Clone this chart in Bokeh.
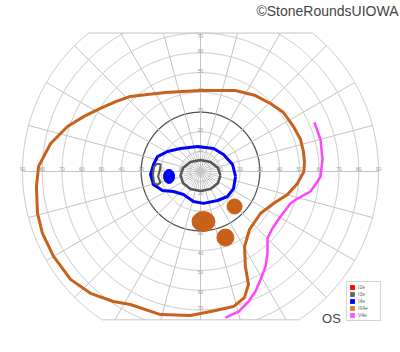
import numpy as np
from bokeh.plotting import figure
from bokeh.models import Label, Legend, LegendItem
from bokeh.core.properties import value
from bokeh.embed import file_html
from bokeh.resources import INLINE

# ---------------- data (meridian angle in degrees, eccentricity in degrees) ----------------
RINGS = [5, 10, 20, 30, 40, 50, 60, 70, 80, 90]
MERIDIANS = list(range(0, 360, 15))
TOP_LIMIT = 70
BOTTOM_LIMIT = 75
H_LABELS = [10, 20, 30, 40, 50, 60, 70, 80, 90]
V_LABELS = [10, 20, 30, 40, 50, 60, 70]

# III4e isopter (closed)
III4E_MER = [0, 5.5, 11, 17.7, 25.8, 35.4, 44.2, 54.1, 66.6, 90, 113.9, 124.5, 133, 140.5,
             147.8, 154.5, 161.3, 169.4, 178.2, 185.2, 194.4, 201.4, 210, 219.7, 227.9,
             236.2, 242.2, 254.4, 266, 276.2, 283.7, 289.2, 293, 295.3, 300.4, 310.2, 325,
             336.3, 345.2, 353]
III4E_ECC = [52.3, 52.8, 53.0, 53.1, 52.2, 51.5, 49.3, 47.4, 44.6, 41.0, 43.7, 47.3, 51.9, 55.6,
             59.8, 65.0, 71.0, 77.1, 81.9, 83.3, 85.1, 85.8, 85.8, 85.4, 83.0,
             79.1, 76.0, 75.1, 73.0, 70.7, 70.3, 67.5, 62.1, 53.1, 44.0, 38.4, 37.0,
             40.3, 45.5, 49.4]
# III4e scotomas (centre x, y and size in degrees)
III4E_SCOT_X = [1.5, 17.2, 12.6]
III4E_SCOT_Y = [-25.3, -17.7, -33.4]
III4E_SCOT_W = [11.6, 7.6, 8.6]
III4E_SCOT_H = [10.1, 7.6, 8.6]

# I4e isopter (closed)
I4E_MER = [351.9, 12.3, 36.5, 60.5, 96.8, 131, 148.8, 160.8, 171.5, 183.4, 195.5, 206.6,
           216.5, 233.5, 256.9, 275.4, 300.4, 317.2, 332.7]
I4E_ECC = [17.9, 16.6, 14.5, 13.4, 12.7, 15.4, 19.5, 23.0, 24.0, 25.3, 24.7, 21.5,
           17.0, 14.5, 15.6, 16.2, 17.0, 18.6, 18.8]
I4E_SCOT_X = [-15.9]
I4E_SCOT_Y = [-2.5]
I4E_SCOT_W = [5.6]
I4E_SCOT_H = [7.1]

# I3e isopter (closed) and small island
I3E_MER = [348.7, 12.2, 43.2, 90, 136.8, 167.8, 191.3, 214.2, 240.1, 270, 299.9, 325.8]
I3E_ECC = [10.3, 8.95, 6.95, 5.8, 6.95, 8.95, 10.3, 10.6, 10.2, 9.9, 10.2, 10.6]
I3E_ISL_MER = [169.5, 173.9, 183.6, 193.9, 197.4, 195.4, 186.7, 177.2, 170.1]
I3E_ISL_ECC = [22.1, 23.6, 24.1, 24.2, 22.8, 21.0, 21.6, 20.5, 20.5]

# V4e isopter (open)
V4E_MER = [23.3, 14.9, 5.6, 357.6, 355.1, 349.7, 344.4, 340.4, 330.6, 321.6, 315, 309.3,
           304.4, 299.1, 294.6, 290.3, 285.2, 279.7]
V4E_ECC = [62.7, 62.8, 62.0, 60.7, 59.4, 56.5, 50.9, 48.3, 46.4, 46.4, 47.9, 53.5,
           58.2, 62.5, 66.7, 70.1, 73.4, 74.9]

LEGEND_LABELS = ["I2e", "I3e", "I4e", "III4e", "V4e"]
LEGEND_COLORS = ["#ff0000", "#666666", "#0000ff", "#d4832e", "#ff55ff"]

ORANGE = "#c8611c"
BLUE = "#0000ff"
GRAY = "#555555"
MAGENTA = "#ff44ff"

# ---------------- figure ----------------
S = 178 / 90.0          # px per degree
CY = 171                # px of centre from top
XMAX = 200 / S
YMAX = CY / S
p = figure(width=400, height=352, x_range=(-XMAX, XMAX),
           y_range=(-(352 - CY) / S, YMAX), min_border=0,
           toolbar_location=None, output_backend="svg")
p.axis.visible = False
p.grid.visible = False
p.outline_line_color = None
p.background_fill_color = "white"


def polar(mer, ecc, close=False):
    m = np.radians(np.asarray(mer, float))
    e = np.asarray(ecc, float)
    x, y = e * np.cos(m), e * np.sin(m)
    if close:
        x, y = np.append(x, x[0]), np.append(y, y[0])
    return x, y


GRID = "#c4c4c4"
# rings clipped to the chart area
th = np.radians(np.linspace(0, 360, 1441))
for r in RINGS:
    x = r * np.cos(th)
    y = r * np.sin(th)
    mask = (y > TOP_LIMIT + 1e-9) | (y < -BOTTOM_LIMIT - 1e-9)
    x = np.where(mask, np.nan, x)
    y = np.where(mask, np.nan, y)
    if r == 30:
        p.line(x, y, line_color="#555555", line_width=1.3)
    else:
        p.line(x, y, line_color=GRID, line_width=1)

# meridians
x0s, y0s, x1s, y1s = [], [], [], []
for a in MERIDIANS:
    t = np.radians(a)
    s = np.sin(t)
    rend = 90.0
    if s > 1e-9:
        rend = min(90.0, TOP_LIMIT / s)
    elif s < -1e-9:
        rend = min(90.0, BOTTOM_LIMIT / -s)
    x0s.append(0.0); y0s.append(0.0)
    x1s.append(rend * np.cos(t)); y1s.append(rend * np.sin(t))
p.segment(x0s, y0s, x1s, y1s, line_color=GRID, line_width=1)
# fine spokes inside 10 degrees
fine = np.radians(np.arange(7.5, 360, 15))
p.segment(5 * np.cos(fine), 5 * np.sin(fine), 10 * np.cos(fine), 10 * np.sin(fine),
          line_color=GRID, line_width=0.8)

# top and bottom borders
xt = np.sqrt(90 ** 2 - TOP_LIMIT ** 2)
xb = np.sqrt(90 ** 2 - BOTTOM_LIMIT ** 2)
p.segment([-xt, -xb], [TOP_LIMIT, -BOTTOM_LIMIT], [xt, xb], [TOP_LIMIT, -BOTTOM_LIMIT],
          line_color=GRID, line_width=1)

# scale labels
lab_font = value("Liberation Sans")
hx = [-v for v in H_LABELS] + H_LABELS
p.text(x=hx, y=[0.4] * len(hx), text=[str(v) for v in H_LABELS] * 2,
       text_font=lab_font, text_font_size="5px", text_color="#9a9a9a",
       text_align="center", text_baseline="bottom")
up = [v for v in V_LABELS if v < TOP_LIMIT]
p.text(x=[0] * len(up), y=up, text=[str(v) for v in up], text_font=lab_font,
       text_font_size="5px", text_color="#9a9a9a", text_align="center", text_baseline="bottom")
p.text(x=[0], y=[TOP_LIMIT - 0.5], text=[str(TOP_LIMIT)], text_font=lab_font,
       text_font_size="5px", text_color="#9a9a9a", text_align="center", text_baseline="top")
dn = [v for v in V_LABELS if v < 70]
p.text(x=[0] * len(dn), y=[-v for v in dn], text=[str(v) for v in dn], text_font=lab_font,
       text_font_size="5px", text_color="#9a9a9a", text_align="center", text_baseline="top")
p.text(x=[0], y=[-70], text=["70"], text_font=lab_font,
       text_font_size="5px", text_color="#9a9a9a", text_align="center", text_baseline="bottom")

# isopters
x, y = polar(III4E_MER, III4E_ECC, close=True)
p.line(x, y, line_color=ORANGE, line_width=3, line_join="round")
p.ellipse(x=III4E_SCOT_X, y=III4E_SCOT_Y, width=III4E_SCOT_W, height=III4E_SCOT_H,
          fill_color=ORANGE, line_color=ORANGE, line_width=1)

x, y = polar(I4E_MER, I4E_ECC, close=True)
p.line(x, y, line_color=BLUE, line_width=3, line_join="round")
p.ellipse(x=I4E_SCOT_X, y=I4E_SCOT_Y, width=I4E_SCOT_W, height=I4E_SCOT_H,
          fill_color=BLUE, line_color=BLUE)

x, y = polar(I3E_MER, I3E_ECC, close=True)
p.line(x, y, line_color=GRAY, line_width=2.5, line_join="round")
x, y = polar(I3E_ISL_MER, I3E_ISL_ECC, close=True)
p.line(x, y, line_color=GRAY, line_width=2, line_join="round")

x, y = polar(V4E_MER, V4E_ECC)
p.line(x, y, line_color=MAGENTA, line_width=2.5, line_join="round")

# legend (swatch renderers placed outside the visible range)
items = []
off = 10 * XMAX
for lab, col in zip(LEGEND_LABELS, LEGEND_COLORS):
    r = p.quad(left=[off], right=[off + 1], top=[off + 1], bottom=[off],
               fill_color=col, line_color=None)
    items.append(LegendItem(label=lab, renderers=[r]))
legend = Legend(items=items, location=(346, 31), glyph_width=6, glyph_height=6,
                label_height=5, label_text_font_size="5px", label_text_color="#666666",
                label_text_font="Liberation Sans", label_standoff=3, spacing=1,
                padding=2, margin=0, border_line_color="#aaaaaa", border_line_width=1,
                background_fill_color="white", background_fill_alpha=1)
p.add_layout(legend)

p.add_layout(Label(x=331, y=34, x_units="screen", y_units="screen", text="OS",
                   text_font="Liberation Sans", text_font_size="13px", text_color="#444444",
                   text_align="center", text_baseline="middle"))
p.add_layout(Label(x=398, y=342, x_units="screen", y_units="screen",
                   text="\u00a9StoneRoundsUIOWA", text_font="Liberation Sans",
                   text_font_size="14px", text_color="#444444",
                   text_align="right", text_baseline="middle"))

open("out.html", "w").write(file_html(p, INLINE))
